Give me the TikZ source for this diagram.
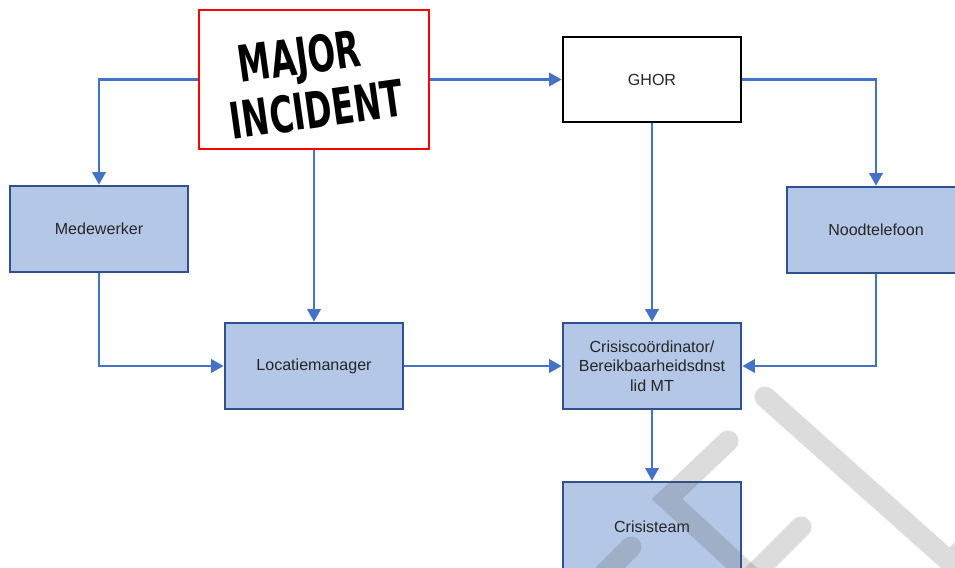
\documentclass[tikz,border=0pt]{standalone}
\usepackage{fontspec}
\setmainfont{Liberation Sans}
\newfontfamily\stampfont[FakeStretch=0.72]{DejaVu Sans Condensed}
\usetikzlibrary{arrows.meta,positioning}
\definecolor{LinkColor}{HTML}{4472C4}
\definecolor{BoxFill}{HTML}{B4C7E7}
\definecolor{BoxEdge}{HTML}{2F528F}
\definecolor{StampRed}{HTML}{FF0000}
\definecolor{InkColor}{HTML}{262626}
\definecolor{MarkGrey}{RGB}{80,80,80}

\begin{document}
\begin{tikzpicture}[x=0.03cm,y=-0.03cm,
  every node/.style={font=\fontsize{13.7}{16.6}\selectfont,text=InkColor},
  box/.style={draw=BoxEdge,line width=2.2pt,fill=BoxFill,minimum width=5.34cm,minimum height=2.58cm,align=center},
  link/.style={LinkColor,line width=2.3pt,-{Triangle[length=0.38cm,width=0.4cm]}},
  stamp/.style={font={\stampfont\bfseries\fontsize{43}{47}\selectfont},text=black,inner sep=0pt,align=center},
  wmark/.style={MarkGrey,opacity=0.2,line width=0.63cm,line cap=round,line join=miter}]
  \useasboundingbox (0,0) rectangle (955,568);
  \clip (0,0) rectangle (955,568);

  % Melding
  \node[draw=StampRed,line width=2.5pt,fill=white,minimum width=6.9cm,minimum height=4.17cm] (major) at (314,79.5){};
  \node[stamp,rotate=8] (majortext) at (313,82){MAJOR\hspace*{0.4em}\\INCIDENT};
  \node[draw=black,line width=2.2pt,fill=white,minimum width=5.34cm,minimum height=2.55cm] (ghor) at (652,79.5){GHOR};

  % Alarmering
  \node[box] (mede) at (99,229){Medewerker};
  \node[box] (nood) at (876,230){Noodtelefoon};
  \node[box] (loc) at (314,366){Locatiemanager};
  \node[box] (crisis) at (652,366){Crisisco\"ordinator/\\Bereikbaarheidsdnst\\lid MT};
  \node[box,minimum height=2.7cm] (team) at (652,527){Crisisteam};

  \draw[link] (major.west) -| (mede.north);
  \draw[link] (major) -- (ghor);
  \draw[link] (major) -- (loc);
  \draw[link] (ghor.east) -| (nood.north);
  \draw[link] (ghor) -- (crisis);
  \draw[link] (mede.south) |- (loc.west);
  \draw[link] (loc) -- (crisis);
  \draw[link] (nood.south) |- (crisis.east);
  \draw[link] (crisis) -- (team);

  % Watermerk
  \draw[wmark] (765,397) -- (950,562) -- (1010,502);
  \draw[wmark] (728,441) -- (667,499) -- (760,585);
  \draw[wmark] (631,547) -- (600,578);
  \draw[wmark] (801,527) -- (740,588);
\end{tikzpicture}
\end{document}
